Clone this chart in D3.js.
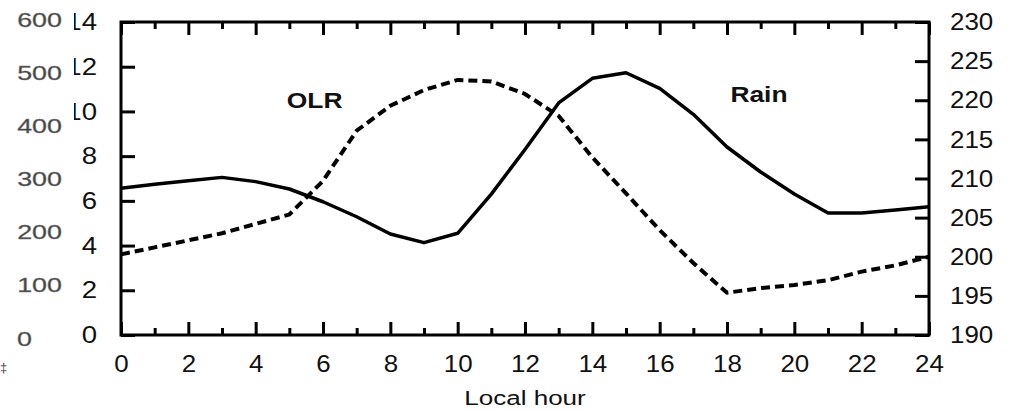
<!DOCTYPE html>
<html>
<head>
<meta charset="utf-8">
<script src="https://cdn.jsdelivr.net/npm/d3@7"></script>
<style>
  body { margin: 0; background: #fff; }
  svg { display: block; font-family: "Liberation Sans", Arial, sans-serif; }
</style>
</head>
<body>
<div id="chart"></div>
<script>
// hourly values
var hours = [0,1,2,3,4,5,6,7,8,9,10,11,12,13,14,15,16,17,18,19,20,21,22,23,24];
var rain = [6.56,6.74,6.9,7.05,6.86,6.53,5.96,5.29,4.52,4.13,4.55,6.3,8.3,10.38,11.48,11.73,11.03,9.87,8.41,7.29,6.31,5.46,5.46,5.59,5.74];
var olr = [200.3,201.2,202.1,203.0,204.2,205.4,209.7,216.1,219.3,221.3,222.6,222.4,220.8,218.0,212.7,208.1,203.4,199.2,195.4,196.0,196.4,197.0,198.1,198.9,200.0];

var xMajor = [0,2,4,6,8,10,12,14,16,18,20,22,24];
var xMinor = [1,3,5,7,9,11,13,15,17,19,21,23];
var leftTicks = [0,2,4,6,8,10,12,14];
var rightTicks = [190,195,200,205,210,215,220,225,230];
var grayTicks = [0,100,200,300,400,500,600];

var labels = [
  {text: "OLR", hour: 5.75, value: 10.15},
  {text: "Rain", hour: 18.95, value: 10.43}
];

const width = 1016, height = 411;
const mLeft = 121, mRight = 929, mTop = 22, mBottom = 335;

const svg = d3.select("#chart").append("svg")
    .attr("width", width)
    .attr("height", height);

svg.append("rect").attr("width", width).attr("height", height).attr("fill", "#fff");

var x = d3.scaleLinear().domain([0, 24]).range([mLeft, mRight]);
var yL = d3.scaleLinear().domain([0, 14]).range([mBottom, mTop]);
var yR = d3.scaleLinear().domain([190, 230]).range([mBottom, mTop]);
var yGray = d3.scaleLinear().domain([0, 600]).range([338, 19]);

function styleAxis(g) {
    g.select(".domain").remove();
    g.selectAll("line").attr("stroke", "#000").attr("stroke-width", 3);
    g.selectAll("text").attr("fill", "#111").style("font-size", "24px");
}

// bottom axis
var gb = svg.append("g").attr("transform", "translate(0," + mBottom + ")")
    .call(d3.axisBottom(x).tickValues(xMajor).tickSizeInner(-13).tickSizeOuter(0).tickPadding(19.5));
styleAxis(gb);
gb.selectAll("text").attr("transform", "scale(1.08,1)");
svg.append("g").attr("transform", "translate(0," + mBottom + ")")
    .call(d3.axisBottom(x).tickValues(xMinor).tickSizeInner(-7).tickSizeOuter(0).tickFormat(""))
    .call(styleAxis);

// top axis
svg.append("g").attr("transform", "translate(0," + mTop + ")")
    .call(d3.axisTop(x).tickValues(xMajor).tickSizeInner(-13).tickSizeOuter(0).tickFormat(""))
    .call(styleAxis);
svg.append("g").attr("transform", "translate(0," + mTop + ")")
    .call(d3.axisTop(x).tickValues(xMinor).tickSizeInner(-7).tickSizeOuter(0).tickFormat(""))
    .call(styleAxis);

// left axis (rain)
var gl = svg.append("g").attr("transform", "translate(" + mLeft + ",0)")
    .call(d3.axisLeft(yL).tickValues(leftTicks).tickSizeInner(-14).tickSizeOuter(0).tickPadding(24));
styleAxis(gl);
gl.selectAll("text").attr("x", null).attr("transform", "translate(-24,0) scale(1.15,1)");

// right axis (OLR)
var gr = svg.append("g").attr("transform", "translate(" + mRight + ",0)")
    .call(d3.axisRight(yR).tickValues(rightTicks).tickSizeInner(-14).tickSizeOuter(0).tickPadding(21));
styleAxis(gr);
gr.selectAll("text").attr("x", null).attr("transform", "translate(21,0) scale(1.08,1)");

// pasted-over strip hiding the left part of the "1"s, with gray labels on it
svg.append("rect").attr("x", 0).attr("y", 0).attr("width", 74).attr("height", 130).attr("fill", "#fff");
svg.append("g").selectAll("text")
    .data(grayTicks)
    .enter().append("text")
    .attr("transform", function(d) { return "translate(" + (d === 0 ? 32 : 62) + "," + yGray(d) + ") scale(1.28,1)"; })
    .attr("text-anchor", "end")
    .attr("dy", "0.36em")
    .attr("fill", "#444")
    .attr("stroke", "#777")
    .attr("stroke-width", 0.4)
    .style("font-size", "21px")
    .text(function(d) { return d; });

svg.append("text")
    .attr("transform", "translate(0,372)")
    .attr("fill", "#444")
    .style("font-size", "13px")
    .text("‡");

// lines
var lineRain = d3.line().x(function(d, i) { return x(hours[i]); }).y(function(d) { return yL(d); });
var lineOlr = d3.line().x(function(d, i) { return x(hours[i]); }).y(function(d) { return yR(d); });

svg.append("path").datum(olr)
    .attr("d", lineOlr)
    .attr("fill", "none")
    .attr("stroke", "#000")
    .attr("stroke-width", 4)
    .attr("stroke-dasharray", "9,5");

svg.append("path").datum(rain)
    .attr("d", lineRain)
    .attr("fill", "none")
    .attr("stroke", "#000")
    .attr("stroke-width", 3.5)
    .attr("stroke-linejoin", "round");

// frame
svg.append("rect")
    .attr("x", mLeft).attr("y", mTop)
    .attr("width", mRight - mLeft).attr("height", mBottom - mTop)
    .attr("fill", "none")
    .attr("stroke", "#000")
    .attr("stroke-width", 3);

// series labels
svg.selectAll(".lab")
    .data(labels)
    .enter().append("text")
    .attr("class", "lab")
    .attr("transform", function(d) { return "translate(" + x(d.hour) + "," + yL(d.value) + ") scale(1.2,1)"; })
    .attr("text-anchor", "middle")
    .style("font-size", "22px")
    .style("font-weight", "bold")
    .attr("fill", "#111")
    .text(function(d) { return d.text; });

// x title
svg.append("text")
    .attr("transform", "translate(" + ((mLeft + mRight) / 2) + ",405) scale(1.24,1)")
    .attr("text-anchor", "middle")
    .style("font-size", "21px")
    .attr("fill", "#111")
    .text("Local hour");
</script>
</body>
</html>
